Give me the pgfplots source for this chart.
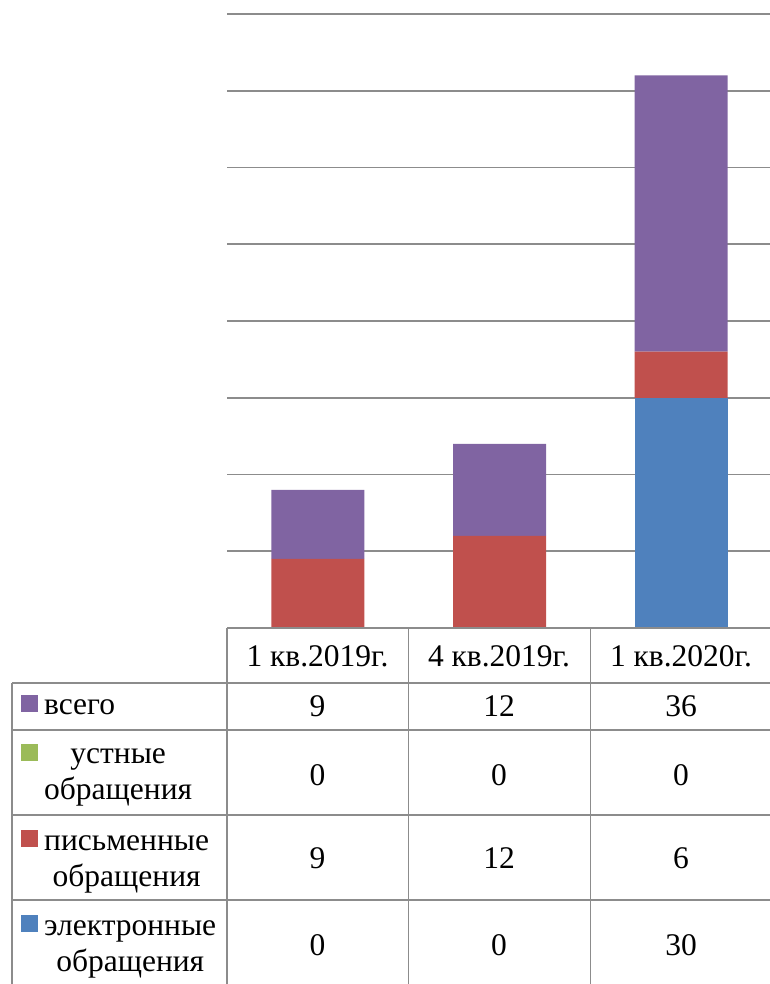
\documentclass[border=0pt]{standalone}
\usepackage{fontspec}
\setmainfont{Liberation Serif}
\usepackage{pgfplots}
\usepackage{pgfplotstable}
\pgfplotsset{compat=1.18}
\definecolor{cTot}{HTML}{8064A2}
\definecolor{cOral}{HTML}{9BBB59}
\definecolor{cWrit}{HTML}{C0504D}
\definecolor{cElec}{HTML}{4F81BD}
\definecolor{cGrid}{HTML}{8C8C8C}
\pgfplotstableread{
x elec oral writ tot
0 0 0 9 9
1 0 0 12 12
2 30 0 6 36
}\data
\begin{document}
\begin{tikzpicture}
\useasboundingbox (0,0) rectangle (770bp,-984bp);
\begin{axis}[at={(227bp,-628bp)}, anchor=south west, scale only axis,
  width=545bp, height=614bp, xmin=-0.5, xmax=2.5, ymin=0, ymax=80,
  ytick={0,10,...,80}, xtick={0,1,2}, xticklabels={}, yticklabels={},
  major tick length=0, axis line style={draw=none},
  ymajorgrids, grid style={cGrid, line width=1.8bp},
  ybar stacked, bar width=93bp, clip=false]
\addplot[fill=cElec, draw=none] table[x=x,y=elec]{\data};
\addplot[fill=cOral, draw=none] table[x=x,y=oral]{\data};
\addplot[fill=cWrit, draw=none] table[x=x,y=writ]{\data};
\addplot[fill=cTot, draw=none] table[x=x,y=tot]{\data};
\end{axis}
\begin{scope}[cGrid, line width=1.8bp]
\draw (227bp,-628bp) -- (770bp,-628bp);
\foreach \yy in {683,730,815,900} \draw (12bp,-\yy bp) -- (770bp,-\yy bp);
\draw (12bp,-683bp) -- (12bp,-984bp);
\foreach \xx in {227,408.5,590.5} \draw (\xx bp,-628bp) -- (\xx bp,-984bp);
\end{scope}
\fill[cTot] (21bp,-695bp) rectangle (38bp,-712bp);
\fill[cOral] (21bp,-744bp) rectangle (38bp,-761bp);
\fill[cWrit] (21bp,-830bp) rectangle (38bp,-847bp);
\fill[cElec] (21bp,-915bp) rectangle (38bp,-932bp);
\begin{scope}[every node/.style={inner sep=0pt, font=\fontsize{31.5bp}{36bp}\selectfont}]
\node[anchor=base] at (317.5bp,-666bp) {1 кв.2019г.};
\node[anchor=base] at (499bp,-666bp) {4 кв.2019г.};
\node[anchor=base] at (681bp,-666bp) {1 кв.2020г.};
\node[anchor=base west] at (44bp,-714bp) {всего};
\node[anchor=base west] at (44bp,-763bp) {\begin{tabular}[t]{@{}c@{}}устные\\обращения\end{tabular}};
\node[anchor=base west] at (44bp,-850bp) {\begin{tabular}[t]{@{}c@{}}письменные\\обращения\end{tabular}};
\node[anchor=base west] at (44bp,-935bp) {\begin{tabular}[t]{@{}c@{}}электронные\\обращения\end{tabular}};
\foreach \x/\a/\b/\c/\d in {317.5/9/0/9/0, 499/12/0/12/0, 681/36/0/6/30} {
  \node[anchor=base] at (\x bp,-716bp) {\a};
  \node[anchor=base] at (\x bp,-785bp) {\b};
  \node[anchor=base] at (\x bp,-868bp) {\c};
  \node[anchor=base] at (\x bp,-955bp) {\d};
}
\end{scope}
\end{tikzpicture}
\end{document}
